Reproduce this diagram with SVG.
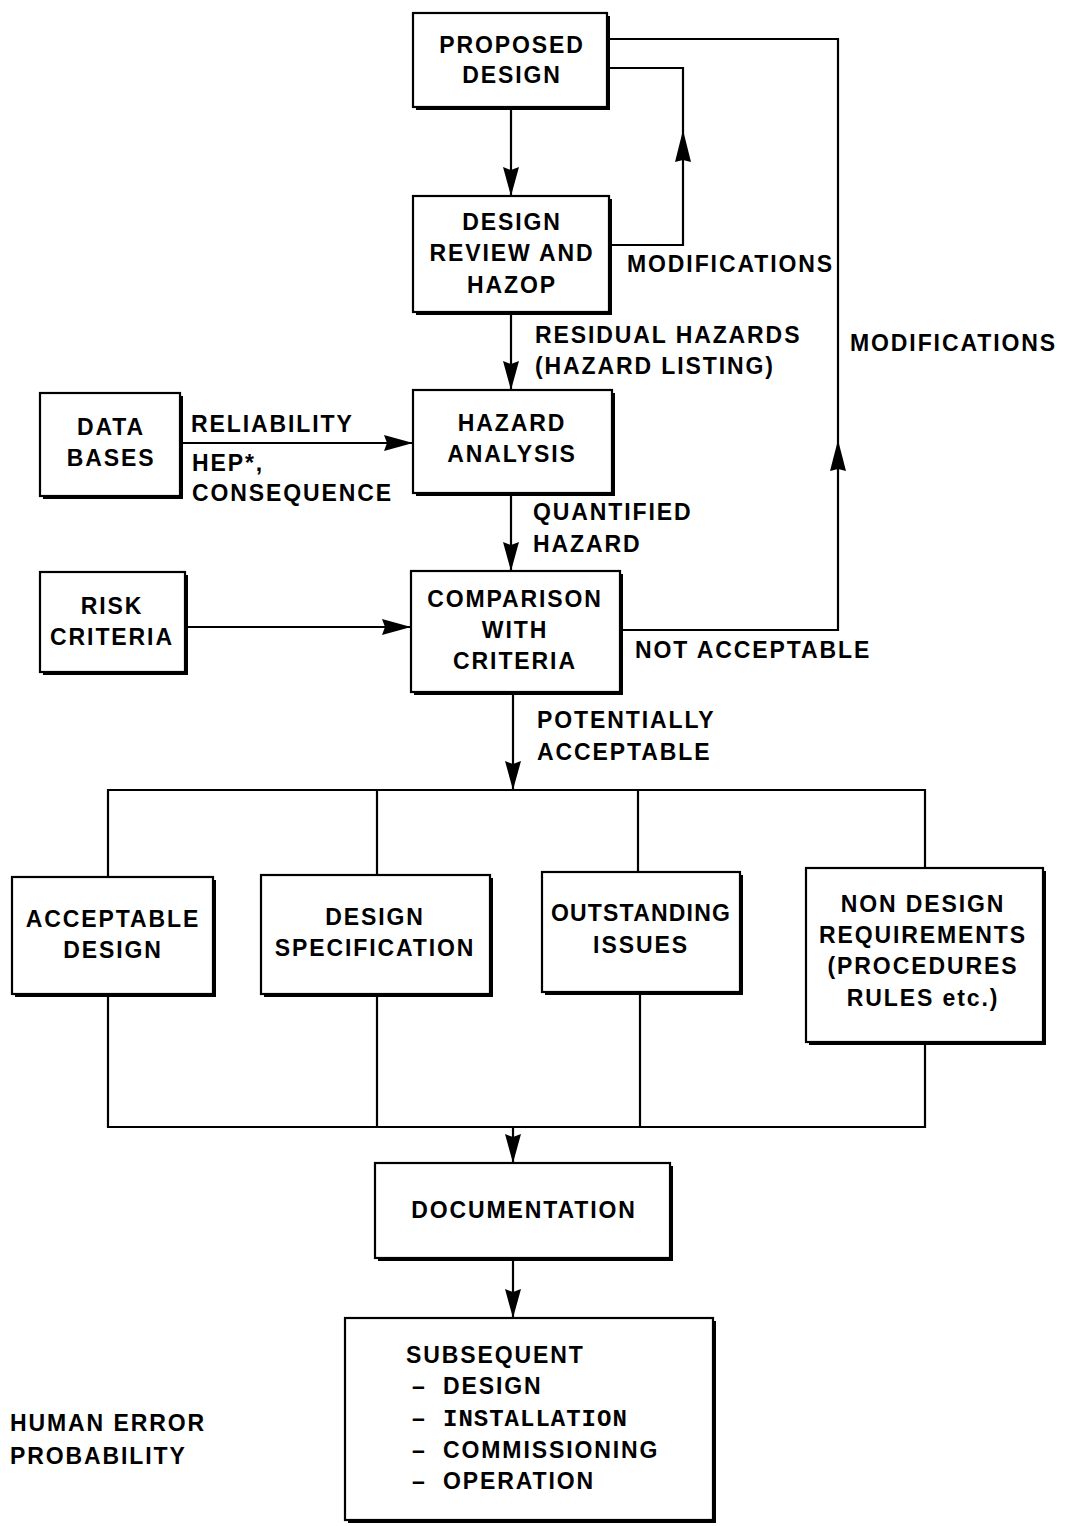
<svg xmlns="http://www.w3.org/2000/svg" width="1066" height="1526" viewBox="0 0 1066 1526">
<style>
text{font-family:"Liberation Sans",Arial,sans-serif;font-weight:bold;font-size:23px;letter-spacing:1.9px;fill:#000}
.c{text-anchor:middle}
.mono{font-family:"Liberation Mono","Courier New",monospace;font-size:24px;letter-spacing:1px}
.box{fill:#fff;stroke:#000;stroke-width:2.2}
.sh{fill:#000}
.ln{fill:none;stroke:#000;stroke-width:2.2}
.ar{fill:none;stroke:#000;stroke-width:2.2;marker-end:url(#ah)}
</style>
<defs>
<marker id="ah" markerUnits="userSpaceOnUse" markerWidth="30" markerHeight="18" refX="29" refY="9" orient="auto">
<path d="M0,1 L29,9 L0,17 L3,9 Z" fill="#000"/>
</marker>
</defs>
<rect width="1066" height="1526" fill="#fff"/>
<g id="connectors">
<path class="ar" d="M511,108 V196"/>
<path class="ln" d="M608,68 H683 V245 H610"/>
<path d="M683,130 L675,162 L683,160 L691,162 Z"/>
<path class="ln" d="M607,39 H838 V630 H620"/>
<path d="M838,440 L830,471 L838,469 L846,471 Z"/>
<path class="ar" d="M511,313 V390"/>
<path class="ar" d="M511,494 V571"/>
<path class="ar" d="M182,443 H413"/>
<path class="ar" d="M186,627 H411"/>
<path class="ar" d="M513,693 V790"/>
<path class="ln" d="M108,877 V790 H925 V868"/>
<path class="ln" d="M377,790 V875"/>
<path class="ln" d="M638,790 V872"/>
<path class="ln" d="M108,995 V1127 H925 V1043"/>
<path class="ln" d="M377,995 V1127"/>
<path class="ln" d="M640,993 V1127"/>
<path class="ar" d="M513,1127 V1163"/>
<path class="ar" d="M513,1259 V1318"/>
<text x="627" y="272">MODIFICATIONS</text>
<text x="850" y="351">MODIFICATIONS</text>
<text x="535" y="343">RESIDUAL HAZARDS</text>
<text x="535" y="374">(HAZARD LISTING)</text>
<text x="191" y="432">RELIABILITY</text>
<text x="192" y="471">HEP*,</text>
<text x="192" y="501">CONSEQUENCE</text>
<text x="533" y="520">QUANTIFIED</text>
<text x="533" y="552">HAZARD</text>
<text x="635" y="658">NOT ACCEPTABLE</text>
<text x="537" y="728">POTENTIALLY</text>
<text x="537" y="760">ACCEPTABLE</text>
</g>
<g id="proposed-design">
<rect class="sh" x="416" y="16" width="194" height="94"/>
<rect class="box" x="413" y="13" width="194" height="94"/>
<text class="c" x="512" y="53">PROPOSED</text>
<text class="c" x="512" y="83">DESIGN</text>
</g>
<g id="design-review">
<rect class="sh" x="416" y="199" width="196" height="116"/>
<rect class="box" x="413" y="196" width="196" height="116"/>
<text class="c" x="512" y="230">DESIGN</text>
<text class="c" x="512" y="261">REVIEW AND</text>
<text class="c" x="512" y="293">HAZOP</text>
</g>
<g id="data-bases">
<rect class="sh" x="43" y="396" width="140" height="103"/>
<rect class="box" x="40" y="393" width="140" height="103"/>
<text class="c" x="111" y="435">DATA</text>
<text class="c" x="111" y="466">BASES</text>
</g>
<g id="hazard-analysis">
<rect class="sh" x="416" y="393" width="199" height="103"/>
<rect class="box" x="413" y="390" width="199" height="103"/>
<text class="c" x="512" y="431">HAZARD</text>
<text class="c" x="512" y="462">ANALYSIS</text>
</g>
<g id="risk-criteria">
<rect class="sh" x="43" y="575" width="145" height="100"/>
<rect class="box" x="40" y="572" width="145" height="100"/>
<text class="c" x="112" y="614">RISK</text>
<text class="c" x="112" y="645">CRITERIA</text>
</g>
<g id="comparison">
<rect class="sh" x="414" y="574" width="209" height="121"/>
<rect class="box" x="411" y="571" width="209" height="121"/>
<text class="c" x="515" y="607">COMPARISON</text>
<text class="c" x="515" y="638">WITH</text>
<text class="c" x="515" y="669">CRITERIA</text>
</g>
<g id="acceptable-design">
<rect class="sh" x="15" y="880" width="201" height="117"/>
<rect class="box" x="12" y="877" width="201" height="117"/>
<text class="c" x="113" y="927">ACCEPTABLE</text>
<text class="c" x="113" y="958">DESIGN</text>
</g>
<g id="design-specification">
<rect class="sh" x="264" y="878" width="229" height="119"/>
<rect class="box" x="261" y="875" width="229" height="119"/>
<text class="c" x="375" y="925">DESIGN</text>
<text class="c" x="375" y="956">SPECIFICATION</text>
</g>
<g id="outstanding-issues">
<rect class="sh" x="545" y="875" width="198" height="120"/>
<rect class="box" x="542" y="872" width="198" height="120"/>
<text class="c" x="641" y="921" style="letter-spacing:1.2px">OUTSTANDING</text>
<text class="c" x="641" y="953">ISSUES</text>
</g>
<g id="non-design-requirements">
<rect class="sh" x="809" y="871" width="237" height="174"/>
<rect class="box" x="806" y="868" width="237" height="174"/>
<text class="c" x="923" y="912">NON DESIGN</text>
<text class="c" x="923" y="943">REQUIREMENTS</text>
<text class="c" x="923" y="974">(PROCEDURES</text>
<text class="c" x="923" y="1006">RULES etc.)</text>
</g>
<g id="documentation">
<rect class="sh" x="378" y="1166" width="295" height="95"/>
<rect class="box" x="375" y="1163" width="295" height="95"/>
<text class="c" x="524" y="1218">DOCUMENTATION</text>
</g>
<g id="subsequent">
<rect class="sh" x="348" y="1321" width="368" height="202"/>
<rect class="box" x="345" y="1318" width="368" height="202"/>
<text x="406" y="1363">SUBSEQUENT</text>
<text x="412" y="1394">–</text>
<text x="443" y="1394">DESIGN</text>
<text x="412" y="1426">–</text>
<text class="mono" x="443" y="1426">INSTALLATION</text>
<text x="412" y="1458">–</text>
<text x="443" y="1458">COMMISSIONING</text>
<text x="412" y="1489">–</text>
<text x="443" y="1489">OPERATION</text>
</g>
<g id="footnote">
<text x="10" y="1431">HUMAN ERROR</text>
<text x="10" y="1464">PROBABILITY</text>
</g>
</svg>
